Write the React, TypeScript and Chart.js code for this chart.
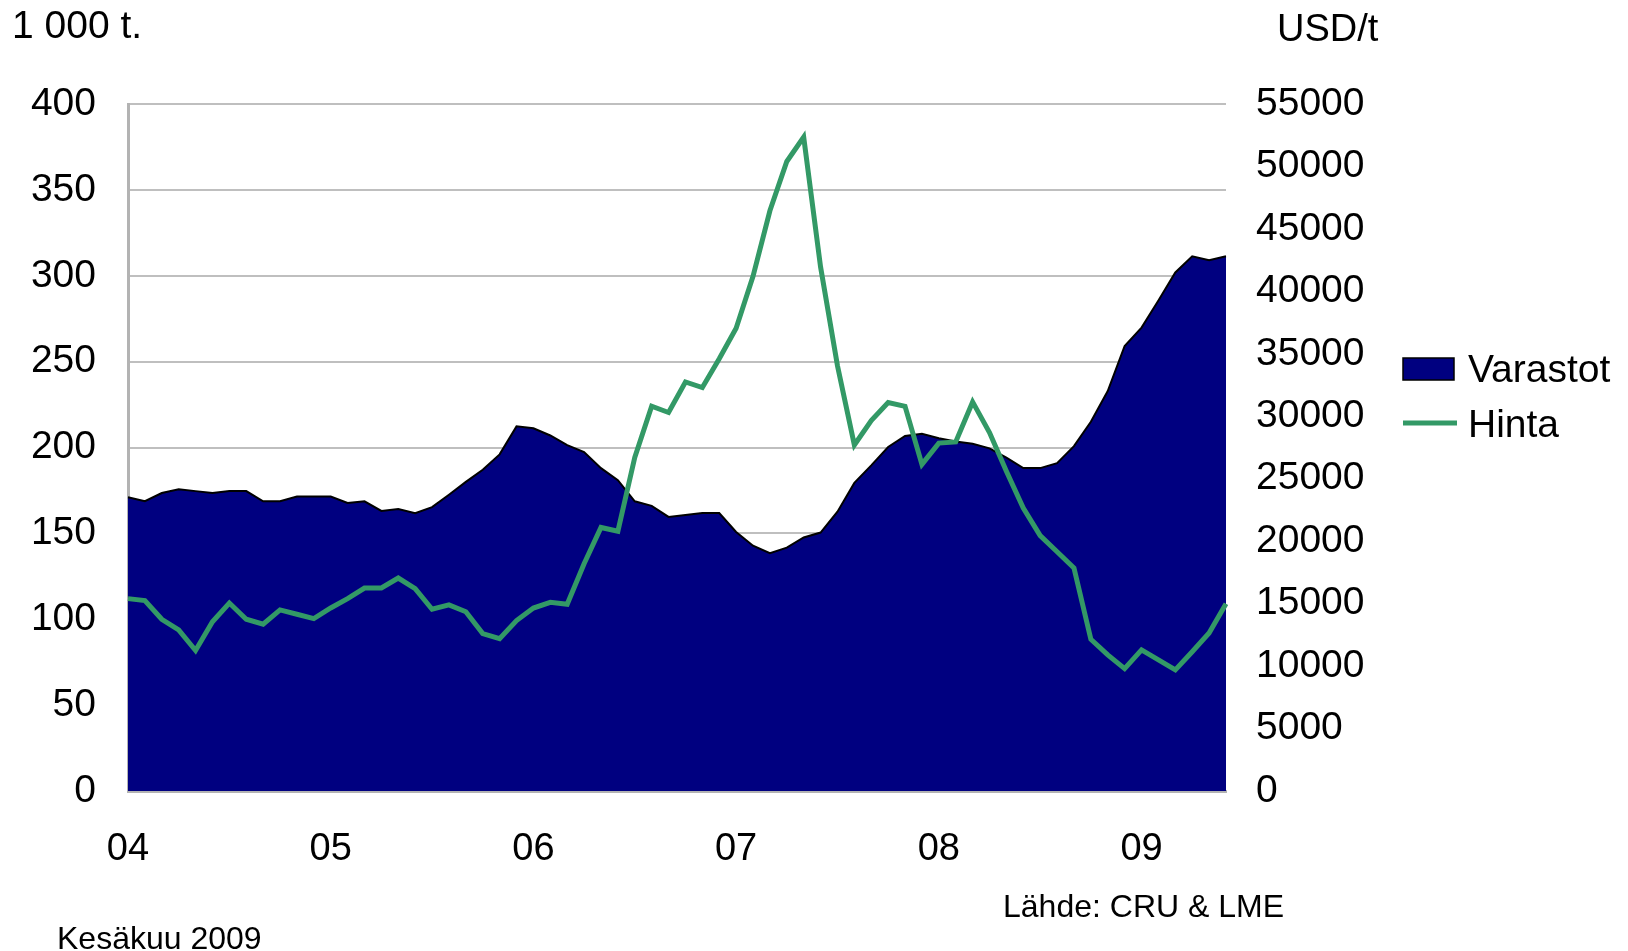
import { useEffect, useRef } from 'react';
import { Chart, registerables } from 'chart.js';

Chart.register(...registerables);

const months = [
  '04-01', '04-02', '04-03', '04-04', '04-05', '04-06', '04-07', '04-08', '04-09', '04-10', '04-11', '04-12',
  '05-01', '05-02', '05-03', '05-04', '05-05', '05-06', '05-07', '05-08', '05-09', '05-10', '05-11', '05-12',
  '06-01', '06-02', '06-03', '06-04', '06-05', '06-06', '06-07', '06-08', '06-09', '06-10', '06-11', '06-12',
  '07-01', '07-02', '07-03', '07-04', '07-05', '07-06', '07-07', '07-08', '07-09', '07-10', '07-11', '07-12',
  '08-01', '08-02', '08-03', '08-04', '08-05', '08-06', '08-07', '08-08', '08-09', '08-10', '08-11', '08-12',
  '09-01', '09-02', '09-03', '09-04', '09-05', '09-06',
];

const yearTicks = ['04', '05', '06', '07', '08', '09'];

// Varastot, 1 000 t.
const stocks = [
  171, 168.7, 173.5, 175.7, 174.6, 173.5, 174.6, 174.6, 168.7, 168.7, 171.4, 171.4,
  171.4, 167.7, 168.7, 163.1, 164.2, 161.8, 165.3, 172.5, 180, 187, 196, 212.3,
  211.2, 207, 201.4, 197.3, 188, 181, 168.7, 166, 159.6, 160.7, 161.8, 161.8,
  150.8, 142.8, 138.5, 141.7, 147.6, 150.5, 162.6, 179.4, 189.6, 200.3, 206.7, 208,
  205.4, 203.5, 202.2, 199.5, 194.1, 188, 188, 190.9, 200.8, 215, 232.9, 259.1,
  269.8, 285.6, 301.9, 311.3, 309.1, 311.3,
];

// Hinta, USD/t
const price = [
  15400, 15250, 13750, 12900, 11250, 13550, 15050, 13750, 13350, 14500, 14150, 13800,
  14650, 15400, 16250, 16250, 17050, 16200, 14550, 14900, 14350, 12600, 12200, 13650,
  14650, 15100, 14950, 18200, 21100, 20800, 26700, 30800, 30300, 32750, 32300, 34600,
  37050, 41200, 46450, 50400, 52350, 41950, 34050, 27700, 29650, 31100, 30800, 26150,
  27850, 27950, 31150, 28700, 25600, 22650, 20450, 19150, 17850, 12150, 10900, 9800,
  11300, 10500, 9700, 11150, 12650, 15000,
];

const NAVY = '#000080';
const GREEN = '#339966';
const FONT = '"Liberation Sans", Arial, sans-serif';

const textPlugin = {
  id: 'extraTexts',
  afterDraw(chart: any) {
    const ctx = chart.ctx as CanvasRenderingContext2D;
    const ds = chart.data.datasets;
    ctx.save();
    ctx.fillStyle = '#000';
    ctx.textAlign = 'left';
    ctx.textBaseline = 'middle';
    ctx.font = `39px ${FONT}`;
    ctx.fillText('1 000 t.', 12, 27);
    ctx.font = `38px ${FONT}`;
    ctx.fillText('USD/t', 1277, 31);

    // legend
    ctx.fillStyle = ds[1].backgroundColor;
    ctx.fillRect(1403, 358, 51, 22);
    ctx.strokeStyle = '#000';
    ctx.lineWidth = 1.5;
    ctx.strokeRect(1403, 358, 51, 22);
    ctx.strokeStyle = ds[0].borderColor;
    ctx.lineWidth = 5;
    ctx.beginPath();
    ctx.moveTo(1403, 423);
    ctx.lineTo(1457, 423);
    ctx.stroke();
    ctx.fillStyle = '#000';
    ctx.font = `39px ${FONT}`;
    ctx.fillText(ds[1].label, 1468, 371);
    ctx.fillText(ds[0].label, 1468, 426);

    ctx.font = `32px ${FONT}`;
    ctx.fillText('Lähde: CRU & LME', 1003, 908);
    ctx.fillText('Kesäkuu 2009', 57, 940);
    ctx.restore();
  },
};

export default function App() {
  const ref = useRef<HTMLCanvasElement>(null);

  useEffect(() => {
    if (!ref.current) return;
    const chart = new Chart(ref.current, {
      type: 'line',
      data: {
        labels: months,
        datasets: [
          {
            label: 'Hinta',
            data: price,
            yAxisID: 'y1',
            borderColor: GREEN,
            backgroundColor: GREEN,
            borderWidth: 5,
            pointRadius: 0,
            fill: false,
            tension: 0,
            order: 0,
          },
          {
            label: 'Varastot',
            data: stocks,
            yAxisID: 'y',
            borderColor: '#000000',
            backgroundColor: NAVY,
            borderWidth: 2,
            pointRadius: 0,
            fill: 'origin',
            tension: 0,
            order: 1,
          },
        ],
      },
      options: {
        responsive: false,
        animation: false,
        layout: { padding: { top: 104, left: 0, right: 0, bottom: 0 } },
        plugins: {
          legend: { display: false },
          tooltip: { enabled: false },
          title: { display: false },
        },
        scales: {
          x: {
            type: 'category',
            grid: { display: false, drawTicks: false },
            border: { display: true, color: '#B3B3B3', width: 3 },
            ticks: {
              autoSkip: false,
              maxRotation: 0,
              minRotation: 0,
              padding: 36,
              color: '#000',
              font: { family: FONT, size: 38 },
              callback: (_v: any, i: number) => (i % 12 === 0 ? yearTicks[i / 12] : ''),
            },
            afterFit: (s: any) => {
              s.height = 160;
            },
          },
          y: {
            position: 'left',
            min: 0,
            max: 400,
            grid: { color: '#BFBFBF', lineWidth: 2, drawTicks: false },
            border: { display: true, color: '#B3B3B3', width: 3 },
            ticks: {
              stepSize: 50,
              padding: 32,
              color: '#000',
              font: { family: FONT, size: 39 },
            },
            afterFit: (s: any) => {
              s.width = 128;
            },
          },
          y1: {
            position: 'right',
            min: 0,
            max: 55000,
            grid: { drawOnChartArea: false, drawTicks: false },
            border: { display: false },
            ticks: {
              stepSize: 5000,
              padding: 30,
              color: '#000',
              font: { family: FONT, size: 39 },
              callback: (v: any) => String(v),
            },
            afterFit: (s: any) => {
              s.width = 402;
            },
          },
        },
      },
      plugins: [textPlugin],
    });
    return () => chart.destroy();
  }, []);

  return (
    <div style={{ position: 'fixed', left: 0, top: 0, width: 1628, height: 951, background: '#fff' }}>
      <canvas ref={ref} width={1628} height={951} style={{ display: 'block' }} />
    </div>
  );
}
